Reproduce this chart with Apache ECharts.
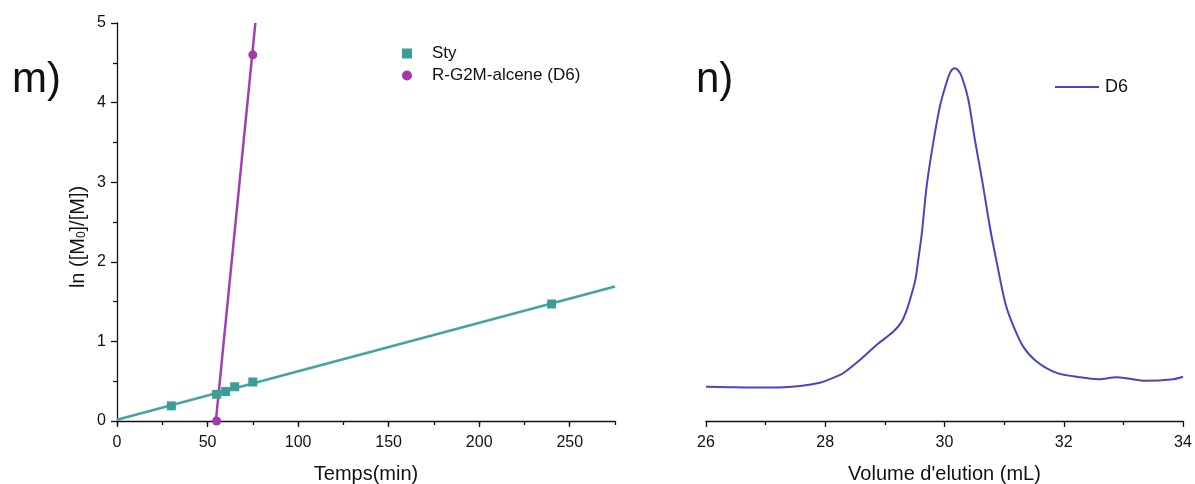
<!DOCTYPE html>
<html>
<head>
<meta charset="utf-8">
<script src="https://cdn.jsdelivr.net/npm/echarts@6/dist/echarts.min.js"></script>
<style>
html,body{margin:0;padding:0;background:#fff;}
#chart{width:1195px;height:484px;}
</style>
</head>
<body>
<div id="chart"></div>
<script>
// ---- Panel m) : kinetics ----
const styTime = [30, 55, 60, 65, 75, 240];
const styLnM = [0.19, 0.335, 0.37, 0.43, 0.49, 1.47];
const d6Time = [55, 75];
const d6LnM = [0, 4.6];
const styFitTime = [0, 275];
const styFitLnM = [0.015, 1.69];
const d6FitTime = [54.6, 76.4];
const d6FitLnM = [0, 5];
const kinXTicks = [0, 50, 100, 150, 200, 250];
const kinYTicks = [0, 1, 2, 3, 4, 5];

// ---- Panel n) : SEC trace ----
const secVolume = [26.00, 26.40, 26.74, 27.07, 27.58, 27.91, 28.14, 28.30, 28.58, 28.86,
  29.14, 29.28, 29.36, 29.42, 29.51, 29.56, 29.62, 29.70, 29.81, 29.93,
  30.04, 30.10, 30.17, 30.23, 30.29, 30.40, 30.51, 30.63, 30.77, 30.88,
  31.02, 31.16, 31.32, 31.55, 31.88, 32.27, 32.58, 32.89, 33.37, 33.84, 34.00];
const secSignal = [0.086, 0.085, 0.084, 0.084, 0.088, 0.096, 0.109, 0.120, 0.153, 0.191,
  0.224, 0.249, 0.276, 0.304, 0.354, 0.405, 0.472, 0.589, 0.698, 0.795,
  0.853, 0.877, 0.886, 0.881, 0.865, 0.807, 0.706, 0.606, 0.480, 0.396,
  0.296, 0.237, 0.187, 0.149, 0.121, 0.110, 0.105, 0.110, 0.101, 0.105, 0.111];
const secXTicks = [26, 28, 30, 32, 34];

const FONT = "'Liberation Sans', Arial, sans-serif";
const INK = '#111';
const TEAL = '#44a49f';
const PURPLE = '#a13fb0';
const BLUE = '#4646c0';

const zip = (a, b) => a.map((v, i) => [v, b[i]]);

const chart = echarts.init(document.getElementById('chart'), null, {renderer: 'canvas'});

const axisLineStyle = {show: true, lineStyle: {color: INK, width: 1.3}};
const labelStyle = {color: INK, fontSize: 16, fontFamily: FONT};
const tickLine = {color: INK, width: 1.3};

const option = {
  backgroundColor: '#fff',
  animation: false,
  textStyle: {fontFamily: FONT},
  grid: [
    {left: 117, right: 580, top: 23, bottom: 63, containLabel: false, outerBoundsMode: 'none'},
    {left: 706, right: 12, top: 23, bottom: 63, containLabel: false, outerBoundsMode: 'none'},
    {left: 117, right: 580, top: 23, bottom: 63, containLabel: false, outerBoundsMode: 'none'}
  ],
  xAxis: [
    {
      type: 'value', gridIndex: 0, min: 0, max: 275, interval: 50,
      axisLine: axisLineStyle,
      axisTick: {show: true, length: 6, lineStyle: tickLine, customValues: kinXTicks},
      axisLabel: Object.assign({margin: 14, customValues: kinXTicks}, labelStyle),
      splitLine: {show: false},
      name: 'Temps(min)', nameLocation: 'middle', nameGap: 43,
      nameTextStyle: {color: INK, fontSize: 20, fontFamily: FONT}
    },
    {
      type: 'value', gridIndex: 1, min: 26, max: 34, interval: 2,
      axisLine: axisLineStyle,
      axisTick: {show: true, length: 6, lineStyle: tickLine},
      minorTick: {show: true, splitNumber: 2, length: 4, lineStyle: tickLine},
      axisLabel: Object.assign({margin: 14, customValues: secXTicks}, labelStyle),
      splitLine: {show: false},
      name: "Volume d'elution (mL)", nameLocation: 'middle', nameGap: 43,
      nameTextStyle: {color: INK, fontSize: 20, fontFamily: FONT}
    },
    {
      type: 'value', gridIndex: 2, min: 0, max: 275, interval: 25,
      axisLine: {show: false},
      axisTick: {show: true, length: 4, lineStyle: tickLine},
      axisLabel: {show: false},
      splitLine: {show: false}
    }
  ],
  yAxis: [
    {
      type: 'value', gridIndex: 0, min: 0, max: 5, interval: 1,
      axisLine: axisLineStyle,
      axisTick: {show: true, length: 6, lineStyle: tickLine},
      minorTick: {show: true, splitNumber: 2, length: 4, lineStyle: tickLine},
      axisLabel: Object.assign({margin: 11, customValues: kinYTicks}, labelStyle),
      splitLine: {show: false},
      name: 'ln ([M{sub|0}]/[M])', nameLocation: 'middle', nameGap: 29,
      nameTextStyle: {color: INK, fontSize: 20, fontFamily: FONT, padding: [0, 30, 0, 0],
        rich: {sub: {fontSize: 12, fontFamily: FONT, color: INK, verticalAlign: 'bottom', padding: [7, 0, 0, 0]}}}
    },
    {type: 'value', gridIndex: 1, min: 0, max: 1, show: false},
    {type: 'value', gridIndex: 2, min: 0, max: 5, show: false}
  ],
  legend: [
    {
      data: ['Sty', 'R-G2M-alcene (D6)'],
      orient: 'vertical', left: 397, top: 40,
      itemWidth: 10, itemHeight: 10, itemGap: 5,
      textStyle: {color: INK, fontSize: 17, lineHeight: 17, fontFamily: FONT, padding: [0, 0, 0, 15]}
    },
    {
      data: [{name: 'D6', icon: 'rect'}],
      left: 1050, top: 73,
      itemWidth: 44, itemHeight: 2,
      textStyle: {color: INK, fontSize: 18, lineHeight: 18, fontFamily: FONT, padding: [0, 0, 0, 1]}
    }
  ],
  graphic: [
    {type: 'text', left: 12, top: 59, style: {text: 'm)', fontSize: 42, fontFamily: FONT, fill: INK}},
    {type: 'text', left: 696, top: 59, style: {text: 'n)', fontSize: 42, fontFamily: FONT, fill: INK}}
  ],
  series: [
    {
      name: 'Sty fit', type: 'line', xAxisIndex: 0, yAxisIndex: 0,
      data: zip(styFitTime, styFitLnM), symbol: 'none',
      lineStyle: {color: TEAL, width: 2.5}, z: 2
    },
    {
      name: 'D6 fit', type: 'line', xAxisIndex: 0, yAxisIndex: 0,
      data: zip(d6FitTime, d6FitLnM), symbol: 'none',
      lineStyle: {color: PURPLE, width: 2.5}, z: 2
    },
    {
      name: 'Sty', type: 'scatter', xAxisIndex: 0, yAxisIndex: 0,
      data: zip(styTime, styLnM), symbol: 'rect', symbolSize: 9,
      itemStyle: {color: '#3a9d98', opacity: 1}, z: 3
    },
    {
      name: 'R-G2M-alcene (D6)', type: 'scatter', xAxisIndex: 0, yAxisIndex: 0,
      data: zip(d6Time, d6LnM), symbol: 'circle', symbolSize: 9,
      itemStyle: {color: '#a03aae', opacity: 1}, z: 3
    },
    {
      name: 'D6', type: 'line', xAxisIndex: 1, yAxisIndex: 1,
      data: zip(secVolume, secSignal), symbol: 'none', smooth: 0.3,
      lineStyle: {color: BLUE, width: 2}, itemStyle: {color: BLUE}
    }
  ]
};
chart.setOption(option);
</script>
</body>
</html>
